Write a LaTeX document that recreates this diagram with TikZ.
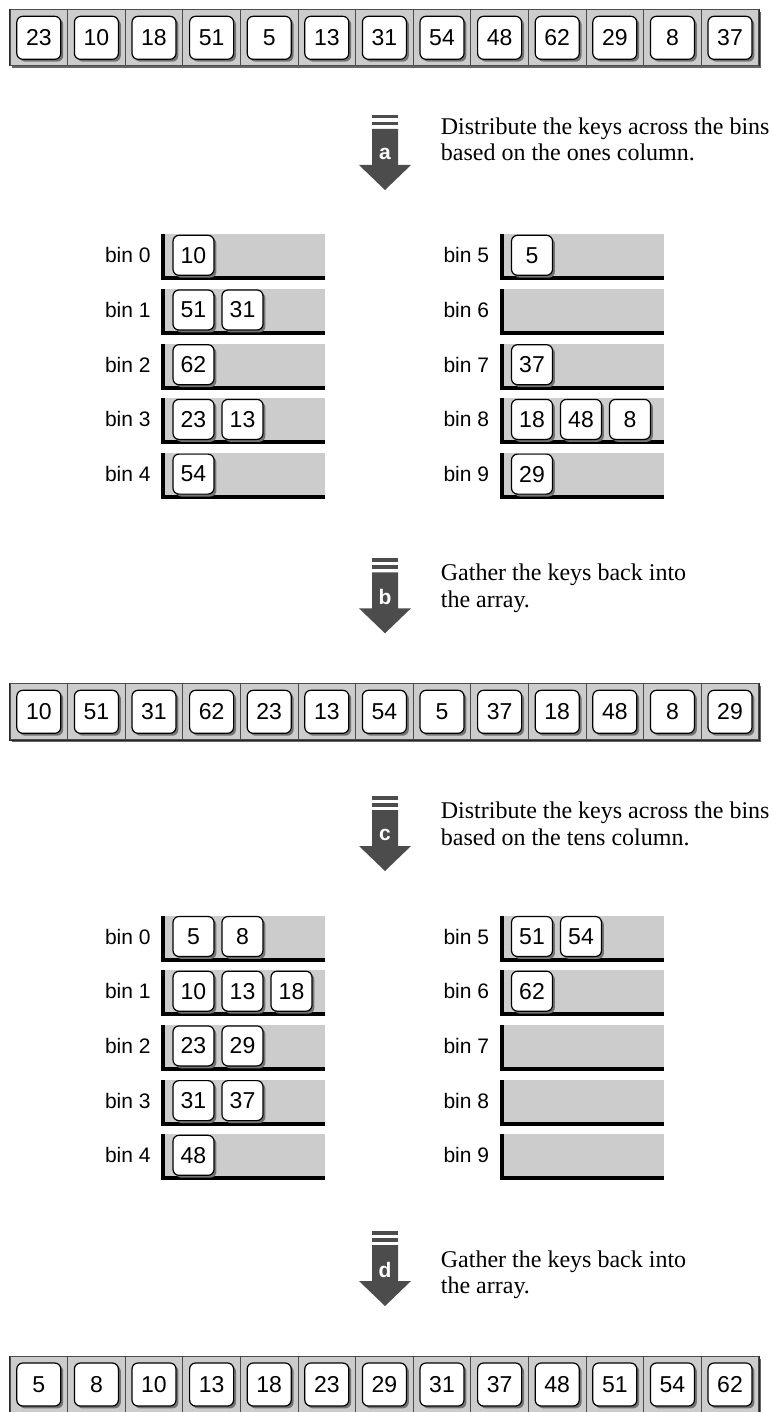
\documentclass[tikz,border=0pt]{standalone}
\usepackage{fontspec}
\setmainfont{Liberation Serif}
\setsansfont{Liberation Sans}
\usetikzlibrary{positioning,shadows}
\newcommand{\keyfont}{\sffamily\fontsize{11.5}{13.8}\selectfont}
\newcommand{\binfont}{\sffamily\fontsize{10.5}{12}\selectfont}
\newcommand{\notefont}{\rmfamily\fontsize{12}{13.2}\selectfont}

\begin{document}
\begin{tikzpicture}[x=0.5pt,y=-0.5pt,
  key/.style={draw,fill=white,line width=0.6pt,rounded corners=3pt,inner sep=0pt,outer sep=0pt,
    minimum width=20.5pt,minimum height=20pt,font=\keyfont,
    drop shadow={shadow xshift=1.2pt,shadow yshift=-1.2pt,fill=black!55,opacity=1}},
  akey/.style={key,minimum width=22pt,minimum height=21.5pt},
  cell/.style={draw=black!70,fill=black!20,line width=0.5pt,inner sep=0pt,outer sep=0pt,
    minimum width=28.8pt,minimum height=28pt},
  frame/.style={draw=black!85,line width=0.7pt,fill=black!20,inner sep=0pt,
    minimum width=374.4pt,minimum height=28pt,
    drop shadow={shadow xshift=1.2pt,shadow yshift=-1.2pt,fill=black!60,opacity=1}},
  bin/.style={fill=black!20,inner sep=0pt,outer sep=0pt,minimum width=80pt,minimum height=21pt},
  binwall/.style={line width=2pt},
  binlabel/.style={font=\binfont,inner sep=0pt},
  stepnote/.style={font=\notefont,align=left,anchor=base west,inner sep=0pt},
  passarrow/.style={fill=black!70},
  passletter/.style={text=white,font=\sffamily\bfseries\fontsize{10.5}{12}\selectfont}]
\useasboundingbox (0,0) rectangle (772,1412);

% input array
\node[frame] (pass1) at (384.4,37.8) {};
\foreach \k [count=\i from 0] in {23,10,18,51,5,13,31,54,48,62,29,8,37} {
  \node[cell] (c1-\i) at ({38.8+57.6*\i},37.8) {};
  \node[akey] (k1-\i) at (c1-\i) {\k};
}

% bins, ones column
\foreach \b/\ks in {0/{10},1/{51,31},2/{62},3/{23,13},4/{54},5/{5},6/{},7/{37},8/{18,48,8},9/{29}} {
  \pgfmathsetmacro{\bx}{\b<5 ? 165 : 503.5}
  \pgfmathsetmacro{\by}{234.3+54.7*mod(\b,5)}
  \node[bin,anchor=north west] (u\b) at (\bx,\by) {};
  \draw[binwall] ([xshift=-1pt]u\b.north west) |- ([yshift=-1pt]u\b.south east);
  \node[binlabel,left=7pt of u\b] (lu\b) {bin \b};
  \foreach \k [count=\j] in \ks
    \node[key,anchor=west] (u\b-\j) at ([xshift={4pt+24.5pt*(\j-1)}]u\b.west) {\k};
}

% gathered array
\node[frame] (pass2) at (384.4,711.8) {};
\foreach \k [count=\i from 0] in {10,51,31,62,23,13,54,5,37,18,48,8,29} {
  \node[cell] (c2-\i) at ({38.8+57.6*\i},711.8) {};
  \node[akey] (k2-\i) at (c2-\i) {\k};
}

% bins, tens column
\foreach \b/\ks in {0/{5,8},1/{10,13,18},2/{23,29},3/{31,37},4/{48},5/{51,54},6/{62},7/{},8/{},9/{}} {
  \pgfmathsetmacro{\bx}{\b<5 ? 165 : 503.5}
  \pgfmathsetmacro{\by}{915.5+54.7*mod(\b,5)}
  \node[bin,anchor=north west] (v\b) at (\bx,\by) {};
  \draw[binwall] ([xshift=-1pt]v\b.north west) |- ([yshift=-1pt]v\b.south east);
  \node[binlabel,left=7pt of v\b] (lv\b) {bin \b};
  \foreach \k [count=\j] in \ks
    \node[key,anchor=west] (v\b-\j) at ([xshift={4pt+24.5pt*(\j-1)}]v\b.west) {\k};
}

% sorted array
\node[frame] (pass3) at (384.4,1384.5) {};
\foreach \k [count=\i from 0] in {5,8,10,13,18,23,29,31,37,48,51,54,62} {
  \node[cell] (c3-\i) at ({38.8+57.6*\i},1384.5) {};
  \node[akey] (k3-\i) at (c3-\i) {\k};
}

% pass arrows
\foreach \s/\t in {a/115,b/558.3,c/796,d/1231} {
  \fill[passarrow] (372,\t) rectangle (398,\t+3.5);
  \fill[passarrow] (372,\t+7) rectangle (398,\t+10.5);
  \fill[passarrow] (372,\t+14) -- (398,\t+14) -- (398,\t+50) -- (411,\t+50)
    -- (385,\t+75) -- (359,\t+50) -- (372,\t+50) -- cycle;
  \node[passletter] (m\s) at (385,\t+38.5) {\s};
}

% notes (anchored on the last line)
\node[stepnote] (na) at (440.5,161) {Distribute the keys across the bins\\based on the ones column.};
\node[stepnote] (nb) at (440.5,607) {Gather the keys back into\\the array.};
\node[stepnote] (nc) at (440.5,845) {Distribute the keys across the bins\\based on the tens column.};
\node[stepnote] (nd) at (440.5,1293.5) {Gather the keys back into\\the array.};
\end{tikzpicture}
\end{document}
